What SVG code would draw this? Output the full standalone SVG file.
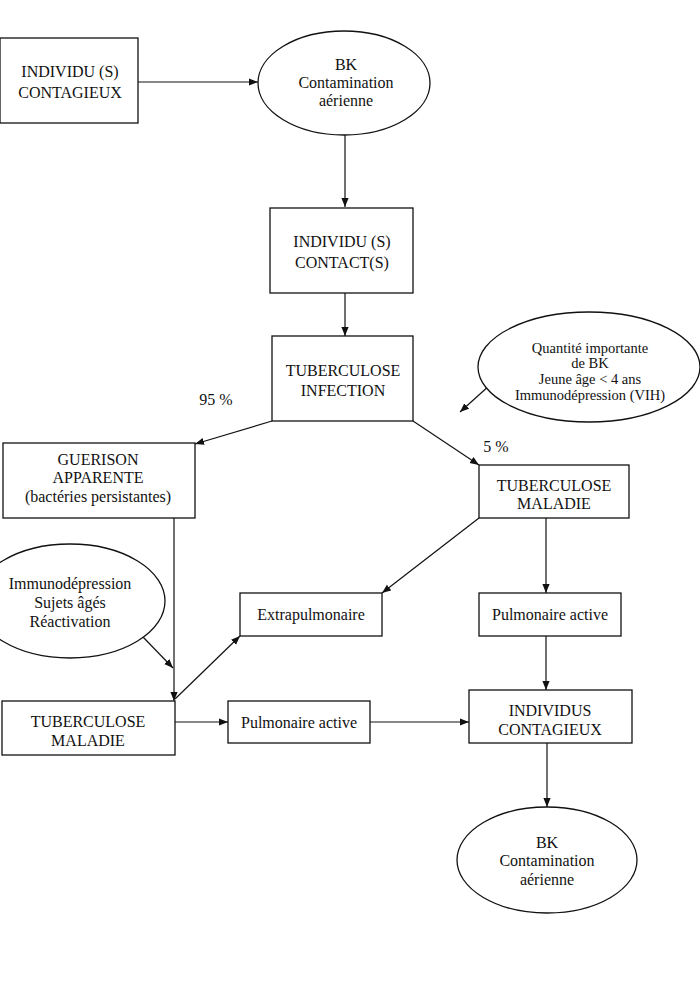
<svg xmlns="http://www.w3.org/2000/svg" width="700" height="981" viewBox="0 0 700 981">
<style>
.b{fill:#fff;stroke:#111;stroke-width:1.3}
.t{font-family:"Liberation Serif","Times New Roman",serif;font-size:16px;fill:#111;text-anchor:middle;dominant-baseline:central}
.s{font-size:14.5px}
.c line{stroke:#111;stroke-width:1.2}
</style>
<defs>
<marker id="a" viewBox="0 0 10 10" refX="10" refY="5" markerWidth="9" markerHeight="9" markerUnits="userSpaceOnUse" orient="auto">
<path d="M0,1 L10,5 L0,9 Z" fill="#111"/>
</marker>
</defs>
<rect width="700" height="981" fill="#fff"/>
<g class="c">
<line x1="138" y1="82" x2="258" y2="82" marker-end="url(#a)"/>
<line x1="345" y1="135" x2="345" y2="207" marker-end="url(#a)"/>
<line x1="345" y1="293" x2="345" y2="336" marker-end="url(#a)"/>
<line x1="272" y1="421" x2="195" y2="444" marker-end="url(#a)"/>
<line x1="413" y1="421" x2="479" y2="465" marker-end="url(#a)"/>
<line x1="490" y1="385" x2="460" y2="412" marker-end="url(#a)"/>
<line x1="174" y1="518" x2="174" y2="701" marker-end="url(#a)"/>
<line x1="143" y1="637" x2="173" y2="668" marker-end="url(#a)"/>
<line x1="175" y1="699" x2="240" y2="636" marker-end="url(#a)"/>
<line x1="175" y1="722" x2="228" y2="722" marker-end="url(#a)"/>
<line x1="479" y1="518" x2="382" y2="593" marker-end="url(#a)"/>
<line x1="546" y1="518" x2="546" y2="593" marker-end="url(#a)"/>
<line x1="546" y1="636" x2="546" y2="690" marker-end="url(#a)"/>
<line x1="370" y1="722" x2="469" y2="722" marker-end="url(#a)"/>
<line x1="547" y1="743" x2="547" y2="807" marker-end="url(#a)"/>
</g>
<g id="n1"><rect class="b" x="0" y="38" width="138" height="85"/><text class="t" x="70" y="71">INDIVIDU (S)</text><text class="t" x="70" y="92">CONTAGIEUX</text></g>
<g id="n2"><ellipse class="b" cx="344" cy="83" rx="86" ry="52"/><text class="t" x="346" y="64">BK</text><text class="t" x="346" y="82">Contamination</text><text class="t" x="346" y="100">aérienne</text></g>
<g id="n3"><rect class="b" x="270" y="208" width="143" height="85"/><text class="t" x="342" y="241">INDIVIDU (S)</text><text class="t" x="342" y="262">CONTACT(S)</text></g>
<g id="n4"><rect class="b" x="272" y="336" width="141" height="85"/><text class="t" x="343" y="370">TUBERCULOSE</text><text class="t" x="343" y="390">INFECTION</text></g>
<g id="n5"><ellipse class="b" cx="589" cy="367" rx="111" ry="55"/><text class="t s" x="590" y="348">Quantité importante</text><text class="t s" x="590" y="363">de BK</text><text class="t s" x="590" y="379">Jeune âge &lt; 4 ans</text><text class="t s" x="590" y="395">Immunodépression (VIH)</text></g>
<g id="p95"><text class="t" x="216" y="399">95 %</text></g>
<g id="p5"><text class="t" x="496" y="446">5 %</text></g>
<g id="n6"><rect class="b" x="3" y="443" width="192" height="75"/><text class="t" x="98" y="459">GUERISON</text><text class="t" x="98" y="477">APPARENTE</text><text class="t" x="98" y="496">(bactéries persistantes)</text></g>
<g id="n7"><rect class="b" x="479" y="465" width="150" height="53"/><text class="t" x="554" y="485">TUBERCULOSE</text><text class="t" x="554" y="503">MALADIE</text></g>
<g id="n8"><ellipse class="b" cx="70" cy="601" rx="95" ry="57"/><text class="t" x="70" y="583">Immunodépression</text><text class="t" x="70" y="602">Sujets âgés</text><text class="t" x="70" y="621">Réactivation</text></g>
<g id="n9"><rect class="b" x="240" y="593" width="142" height="43"/><text class="t" x="311" y="614">Extrapulmonaire</text></g>
<g id="n10"><rect class="b" x="479" y="593" width="142" height="43"/><text class="t" x="550" y="614">Pulmonaire active</text></g>
<g id="n11"><rect class="b" x="2" y="701" width="173" height="54"/><text class="t" x="88" y="721">TUBERCULOSE</text><text class="t" x="88" y="740">MALADIE</text></g>
<g id="n12"><rect class="b" x="228" y="701" width="142" height="42"/><text class="t" x="299" y="722">Pulmonaire active</text></g>
<g id="n13"><rect class="b" x="469" y="690" width="163" height="53"/><text class="t" x="550" y="710">INDIVIDUS</text><text class="t" x="550" y="729">CONTAGIEUX</text></g>
<g id="n14"><ellipse class="b" cx="547" cy="860" rx="90" ry="53"/><text class="t" x="547" y="842">BK</text><text class="t" x="547" y="860">Contamination</text><text class="t" x="547" y="879">aérienne</text></g>
</svg>
